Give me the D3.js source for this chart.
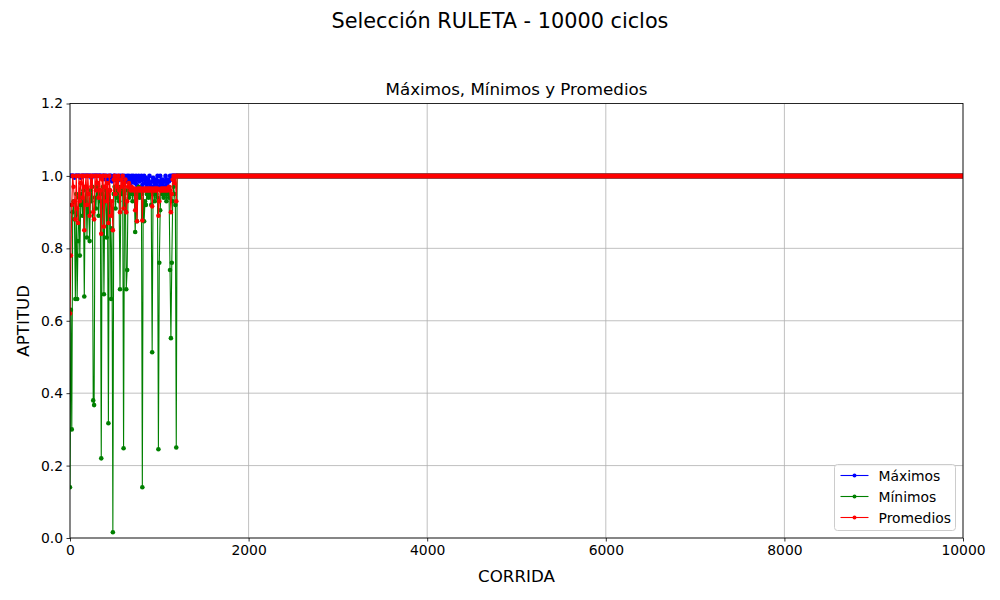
<!DOCTYPE html>
<html>
<head>
<meta charset="utf-8">
<script src="https://cdn.jsdelivr.net/npm/d3@7"></script>
<style>
  html, body { margin: 0; padding: 0; background: #fff; }
  svg { display: block; font-family: "DejaVu Sans", sans-serif; }
</style>
</head>
<body>
<svg id="chart" width="1000" height="600"></svg>
<script>
// ---- data ----
const suptitle = "Selección RULETA - 10000 ciclos";
const axTitle = "Máximos, Mínimos y Promedios";
const xLabel = "CORRIDA";
const yLabel = "APTITUD";
const xTicks = [0, 2000, 4000, 6000, 8000, 10000];
const yTicks = [0.0, 0.2, 0.4, 0.6, 0.8, 1.0, 1.2];
const seriesNames = ["Máximos", "Mínimos", "Promedios"];

// sampled cycles of the unstable stretch: 0, 10, 20, ... 1190
const sampleStep = 10;
const maximos = [
  1,1,1,1,1,0.995,1,1,1,1,
  1,1,0.995,1,1,1,1,1,1,1,
  1,1,1,1,0.995,1,1,1,1,1,
  1,1,1,1,1,1,0.995,1,1,1,
  0.99,1,0.985,1,0.995,1,1,0.985,0.99,1,
  1,0.99,1,0.985,0.995,1,0.99,1,0.995,1,
  0.99,1,0.995,0.985,1,0.99,1,0.995,0.98,1,
  0.985,1,0.99,0.98,1,0.975,0.995,1,0.985,0.99,
  1,0.975,0.99,1,0.98,0.995,0.97,0.99,0.98,1,
  0.975,0.97,0.985,0.995,0.97,0.98,0.99,0.975,1,0.985,
  0.97,1,0.98,0.975,0.99,0.97,0.985,1,0.975,0.99,
  0.97,0.985,1,0.99,1,1,1,1,1,1
];
const minimos = [
  0.14,0.63,0.30,0.90,0.93,0.88,0.66,0.95,0.66,0.82,
  0.94,0.78,0.92,0.95,0.89,0.96,0.667,0.93,0.97,0.83,
  0.95,0.90,0.82,0.96,0.93,0.97,0.38,0.367,0.94,0.91,
  0.97,0.95,0.89,0.96,0.93,0.22,0.95,0.97,0.673,0.94,
  0.96,0.83,0.95,0.317,0.96,0.92,0.66,0.855,0.016,0.95,
  0.97,0.91,0.96,0.94,0.97,0.93,0.687,0.96,0.95,0.97,
  0.248,0.95,0.96,0.687,0.74,0.96,0.94,0.97,0.95,0.96,
  0.93,0.96,0.95,0.845,0.96,0.875,0.95,0.97,0.94,0.96,
  0.95,0.14,0.96,0.875,0.93,0.92,0.95,0.96,0.94,0.96,
  0.95,0.92,0.513,0.95,0.96,0.93,0.96,0.95,0.94,0.245,
  0.76,0.905,0.96,0.95,0.96,0.94,0.96,0.95,0.93,0.96,
  0.95,0.94,0.74,0.552,0.76,0.93,0.97,0.95,0.92,0.25
];
const promedios = [
  0.62,0.78,0.92,1.0,0.97,0.93,0.88,1.0,0.91,0.87,
  1.0,0.93,0.98,1.0,0.94,1.0,0.85,0.97,1.0,0.92,
  1.0,0.95,0.89,1.0,0.97,1.0,0.90,0.88,1.0,0.96,
  1.0,0.98,0.94,1.0,0.96,0.84,0.99,1.0,0.86,0.97,
  1.0,0.93,0.98,0.87,1.0,0.96,0.89,0.93,0.85,0.99,
  1.0,0.95,0.99,0.97,1.0,0.96,0.90,0.99,0.97,1.0,
  0.91,0.98,0.99,0.90,0.93,0.97,0.98,0.97,0.96,0.97,
  0.965,0.96,0.965,0.905,0.96,0.875,0.965,0.96,0.965,0.96,
  0.965,0.877,0.96,0.965,0.96,0.965,0.96,0.965,0.96,0.965,
  0.96,0.965,0.916,0.96,0.965,0.96,0.965,0.96,0.965,0.89,
  0.93,0.96,0.965,0.96,0.965,0.96,0.965,0.96,0.965,0.96,
  0.965,0.97,0.96,0.90,0.95,0.99,1.0,0.98,1.0,0.93
];
// from cycle 1200 to the last cycle every series stays at 1.0
const stableFrom = 1200;
const lastCycle = 9999;
const stableValue = 1.0;

// ---- layout ----
const svg = d3.select("#chart");
const M = { left: 70, right: 963, top: 103.5, bottom: 538 };
const x = d3.scaleLinear().domain([0, 10000]).range([M.left, M.right]);
const y = d3.scaleLinear().domain([0, 1.2]).range([M.bottom, M.top]);
const colors = ["#0000ff", "#008000", "#ff0000"];

svg.append("defs").append("clipPath").attr("id", "clip")
  .append("rect").attr("x", M.left).attr("y", M.top)
  .attr("width", M.right - M.left).attr("height", M.bottom - M.top);

// grid
const g = svg.append("g");
g.selectAll(".gx").data(xTicks).enter().append("line")
  .attr("x1", d => x(d)).attr("x2", d => x(d))
  .attr("y1", M.top).attr("y2", M.bottom)
  .attr("stroke", "#b0b0b0").attr("stroke-width", 0.8);
g.selectAll(".gy").data(yTicks).enter().append("line")
  .attr("x1", M.left).attr("x2", M.right)
  .attr("y1", d => y(d)).attr("y2", d => y(d))
  .attr("stroke", "#b0b0b0").attr("stroke-width", 0.8);

// series
const allSeries = [maximos, minimos, promedios];
const plot = svg.append("g").attr("clip-path", "url(#clip)");
const line = d3.line().x(d => x(d[0])).y(d => y(d[1]));
allSeries.forEach((vals, si) => {
  const pts = vals.map((v, i) => [i * sampleStep, v]);
  const tail = [[stableFrom, stableValue], [lastCycle, stableValue]];
  const full = pts.concat(tail);
  plot.append("path").datum(full).attr("d", line)
    .attr("fill", "none").attr("stroke", colors[si]).attr("stroke-width", 1.1);
  plot.append("g").selectAll("circle").data(pts).enter().append("circle")
    .attr("cx", d => x(d[0])).attr("cy", d => y(d[1])).attr("r", 2.3)
    .attr("fill", colors[si]);
  // dense markers of the stable stretch merge into one band
  plot.append("path").datum(tail).attr("d", line)
    .attr("fill", "none").attr("stroke", colors[si]).attr("stroke-width", 5)
    .attr("stroke-linecap", "round");
});

// axes
const xAxis = d3.axisBottom(x).tickValues(xTicks).tickSize(3.5).tickPadding(3.5).tickFormat(d3.format("d"));
const yAxis = d3.axisLeft(y).tickValues(yTicks).tickSize(3.5).tickPadding(3.5).tickFormat(d3.format(".1f"));
const ax = svg.append("g").attr("transform", `translate(0,${M.bottom})`).call(xAxis);
const ay = svg.append("g").attr("transform", `translate(${M.left},0)`).call(yAxis);
[ax, ay].forEach(a => {
  a.select(".domain").remove();
  a.selectAll("line").attr("stroke", "#000").attr("stroke-width", 0.8);
  a.selectAll("text").attr("font-size", "13.9px").attr("fill", "#000")
    .attr("font-family", "DejaVu Sans, sans-serif");
});
// spines
svg.append("rect").attr("x", M.left).attr("y", M.top)
  .attr("width", M.right - M.left).attr("height", M.bottom - M.top)
  .attr("fill", "none").attr("stroke", "#000").attr("stroke-width", 0.8);

// titles
svg.append("text").attr("x", 500).attr("y", 28).attr("text-anchor", "middle")
  .attr("font-size", "20.8px").text(suptitle);
svg.append("text").attr("x", (M.left + M.right) / 2).attr("y", 95).attr("text-anchor", "middle")
  .attr("font-size", "16.7px").text(axTitle);
svg.append("text").attr("x", (M.left + M.right) / 2).attr("y", 582).attr("text-anchor", "middle")
  .attr("font-size", "16.7px").text(xLabel);
svg.append("text").attr("transform", `translate(29,${(M.top + M.bottom) / 2}) rotate(-90)`)
  .attr("text-anchor", "middle").attr("font-size", "16.7px").text(yLabel);

// legend
const lg = svg.append("g").attr("transform", "translate(834.5,464.5)");
lg.append("rect").attr("width", 121).attr("height", 66).attr("rx", 3)
  .attr("fill", "#fff").attr("fill-opacity", 0.8).attr("stroke", "#cccccc").attr("stroke-width", 1);
seriesNames.forEach((n, i) => {
  const yy = 11 + i * 21;
  lg.append("line").attr("x1", 6).attr("x2", 34).attr("y1", yy).attr("y2", yy)
    .attr("stroke", colors[i]).attr("stroke-width", 1.1);
  lg.append("circle").attr("cx", 20).attr("cy", yy).attr("r", 2).attr("fill", colors[i]);
  lg.append("text").attr("x", 44).attr("y", yy + 5).attr("font-size", "13.9px").text(n);
});
</script>
</body>
</html>
